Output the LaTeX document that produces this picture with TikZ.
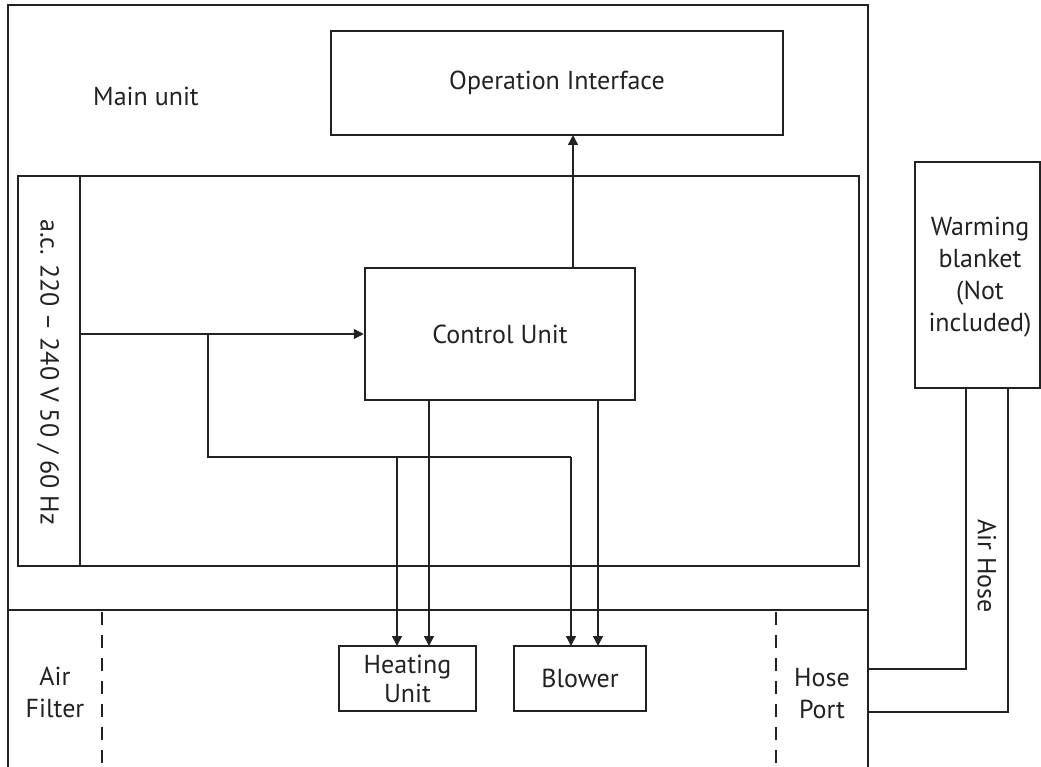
\documentclass[tikz,border=0pt]{standalone}
\usepackage{fontspec}
\setmainfont{PT Sans}
\usetikzlibrary{arrows.meta}
\definecolor{ink}{HTML}{222222}
\begin{document}
\begin{tikzpicture}[x=1pt,y=-1pt,
  every node/.style={text=ink, font=\fontsize{26}{32}\selectfont},
  box/.style={draw=ink, line width=2.5pt, inner sep=0pt, align=center},
  frame/.style={draw=ink, line width=2.6pt},
  dashline/.style={draw=ink, line width=2.4pt, dash pattern=on 13pt off 10pt},
  conn/.style={draw=ink, line width=1.4pt, -{Triangle[length=10pt,width=10pt]}},
  wire/.style={draw=ink, line width=1.4pt},
  hose/.style={draw=ink, line width=2.5pt}]
\useasboundingbox (0,0) rectangle (1041,767);

% main unit frame
\coordinate (mbl) at (8,767);
\coordinate (mtl) at (8,5);
\coordinate (mtr) at (868,5);
\coordinate (mbr) at (868,767);
\coordinate (sepl) at (8,610);
\coordinate (sepr) at (868,610);
\draw[frame] (mbl) -- (mtl) -- (mtr) -- (mbr);
\draw[frame] (sepl) -- (sepr);
\node (mainlbl) at (146,96) {Main unit};

% operation interface
\node[box, minimum width=452pt, minimum height=104pt] (oi) at (557,83) {Operation Interface};

% inner panel
\node[box, minimum width=841pt, minimum height=390pt] (panel) at (438.5,371) {};
\coordinate (divt) at (80,176);
\coordinate (divb) at (80,566);
\draw[frame, line width=2.4pt] (divt) -- (divb);
\node[rotate=-90] (volt) at (48,372) {a.c. 220 – 240 V 50 / 60 Hz};

% control unit
\node[box, minimum width=270pt, minimum height=132pt] (cu) at (500,334) {Control Unit};

% heating unit and blower
\node[box, minimum width=137pt, minimum height=65pt] (heat) at (407.5,678.5) {Heating\\[-3pt]Unit};
\node[box, minimum width=132pt, minimum height=65pt] (blow) at (580,678.5) {Blower};

% connectors
\coordinate (cutop) at (573,268);
\coordinate (oibot) at (573,135);
\draw[conn] (cutop) -- (oibot);

\coordinate (src) at (80,334);
\draw[conn] (src) -- (cu.west);

\coordinate (br1) at (208,334);
\coordinate (br2) at (208,457);
\coordinate (br3) at (571,457);
\coordinate (br4) at (397,457);
\coordinate (blowin1) at (571,646);
\coordinate (heatin1) at (397,646);
\draw[wire] (br1) -- (br2) -- (br3);
\draw[conn] (br3) -- (blowin1);
\draw[conn] (br4) -- (heatin1);

\coordinate (cuo1) at (429,400);
\coordinate (heatin2) at (429,646);
\coordinate (cuo2) at (598,400);
\coordinate (blowin2) at (598,646);
\draw[conn] (cuo1) -- (heatin2);
\draw[conn] (cuo2) -- (blowin2);

% bottom compartment dashed separators
\coordinate (d1t) at (102,612);
\coordinate (d1b) at (102,767);
\coordinate (d2t) at (776,612);
\coordinate (d2b) at (776,767);
\draw[dashline] (d1t) -- (d1b);
\draw[dashline] (d2t) -- (d2b);
\node[align=center] (filter) at (55,692) {Air\\Filter};
\node[align=center] (port) at (822,694) {Hose\\Port};

% warming blanket
\node[box, minimum width=125pt, minimum height=226pt] (blanket) at (977.5,275) {};
\node[align=center] (blanketlbl) at (980,277) {Warming\\blanket\\(Not\\included)};

% air hose
\coordinate (h1t) at (966,388);
\coordinate (h1b) at (966,669);
\coordinate (h1e) at (868,669);
\coordinate (h2t) at (1008,388);
\coordinate (h2b) at (1008,712);
\coordinate (h2e) at (868,712);
\draw[hose] (h1t) -- (h1b) -- (h1e);
\draw[hose] (h2t) -- (h2b) -- (h2e);
\node[rotate=-90] (hoselbl) at (987,566) {Air Hose};
\end{tikzpicture}
\end{document}
